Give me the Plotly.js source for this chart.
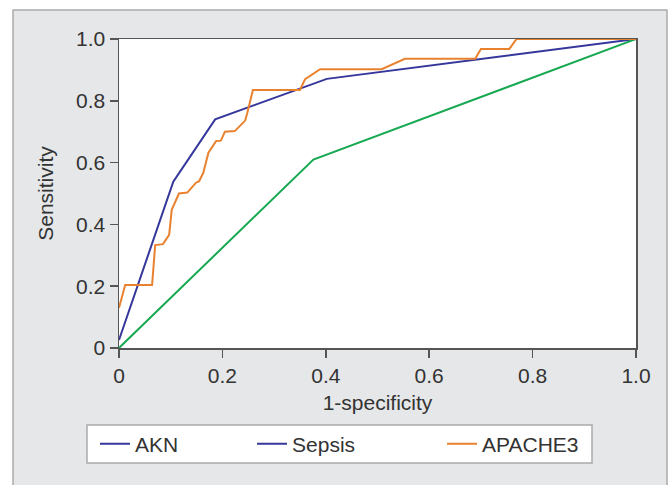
<!DOCTYPE html>
<html>
<head>
<meta charset="utf-8">
<script src="https://cdn.plot.ly/plotly-3.0.1.min.js"></script>
<style>html,body{margin:0;padding:0;background:#fff;}#chart{width:669px;height:485px;}</style>
</head>
<body>
<div id="chart"></div>
<script>
// ROC curves
const aknX = [0, 0.105, 0.186, 0.402, 1.0];
const aknY = [0.026, 0.538, 0.740, 0.871, 1.0];

const sepsisX = [0, 0.376, 1.0];
const sepsisY = [0, 0.61, 1.0];

const apacheX = [0, 0.012, 0.064, 0.070, 0.085, 0.097, 0.102, 0.116, 0.132, 0.149, 0.155, 0.163, 0.173, 0.188, 0.197, 0.205, 0.224, 0.244, 0.248, 0.259, 0.350, 0.360, 0.389, 0.508, 0.553, 0.689, 0.700, 0.755, 0.769, 1.0];
const apacheY = [0.13, 0.204, 0.204, 0.333, 0.336, 0.366, 0.447, 0.500, 0.503, 0.535, 0.540, 0.567, 0.632, 0.670, 0.671, 0.700, 0.702, 0.736, 0.760, 0.835, 0.835, 0.870, 0.902, 0.902, 0.936, 0.936, 0.968, 0.968, 1.0, 1.0];

const tickVals = [0, 0.2, 0.4, 0.6, 0.8, 1.0];
const tickText = ['0', '0.2', '0.4', '0.6', '0.8', '1.0'];

const seriesNames = ['AKN', 'Sepsis', 'APACHE3'];

const BLUE = '#35379b';
const GREEN = '#17a951';
const ORANGE = '#e9822f';
const TXT = '#333333';
const FONT = 'Liberation Sans, Arial, sans-serif';

const traces = [
  {x: aknX, y: aknY, mode: 'lines', name: seriesNames[0], line: {color: BLUE, width: 2}, legend: 'legend', hoverinfo: 'skip'},
  {x: sepsisX, y: sepsisY, mode: 'lines', name: seriesNames[1], line: {color: GREEN, width: 2}, showlegend: false, hoverinfo: 'skip'},
  {x: [null], y: [null], mode: 'lines', name: seriesNames[1], line: {color: BLUE, width: 2}, legend: 'legend2', hoverinfo: 'skip'},
  {x: apacheX, y: apacheY, mode: 'lines', name: seriesNames[2], line: {color: ORANGE, width: 2}, legend: 'legend3', hoverinfo: 'skip'}
];

const legBase = {orientation: 'v', xanchor: 'left', yanchor: 'middle', y: -0.3107, bgcolor: 'rgba(0,0,0,0)', borderwidth: 0, font: {family: FONT, size: 21, color: TXT}};

const axisBase = {
  range: [0, 1], tickvals: tickVals, ticktext: tickText,
  showline: true, linecolor: '#555555', linewidth: 1.5, mirror: true,
  ticks: 'outside', ticklen: 8, tickwidth: 1.5, tickcolor: '#555555',
  showgrid: false, zeroline: false,
  tickfont: {family: FONT, size: 21, color: TXT}
};

const layout = {
  width: 669, height: 485,
  margin: {l: 119, r: 33, t: 39, b: 137},
  paper_bgcolor: '#ffffff', plot_bgcolor: '#ffffff',
  showlegend: true,
  xaxis: Object.assign({}, axisBase, {title: {text: '1-specificity', font: {family: FONT, size: 21, color: TXT}, standoff: 9}}),
  yaxis: Object.assign({}, axisBase, {title: {text: 'Sensitivity', font: {family: FONT, size: 21, color: TXT}, standoff: 16}}),
  legend: Object.assign({}, legBase, {x: -0.0464}),
  legend2: Object.assign({}, legBase, {x: 0.2573}),
  legend3: Object.assign({}, legBase, {x: 0.6248}),
  shapes: [
    {type: 'rect', xref: 'paper', yref: 'paper', x0: -0.2050, x1: 1.0600, y0: -0.46, y1: 1.0939, fillcolor: '#e6e7e9', line: {color: '#ababab', width: 1.5}, layer: 'below'},
    {type: 'rect', xref: 'x', yref: 'y', x0: 0, x1: 1, y0: 0, y1: 1, fillcolor: '#ffffff', line: {width: 0}, layer: 'below'},
    {type: 'rect', xref: 'paper', yref: 'paper', x0: -0.0619, x1: 0.9149, y0: -0.3722, y1: -0.2492, fillcolor: '#ffffff', line: {color: '#ababab', width: 1.5}, layer: 'below'}
  ]
};

Plotly.newPlot('chart', traces, layout, {staticPlot: true, displayModeBar: false});
</script>
</body>
</html>
